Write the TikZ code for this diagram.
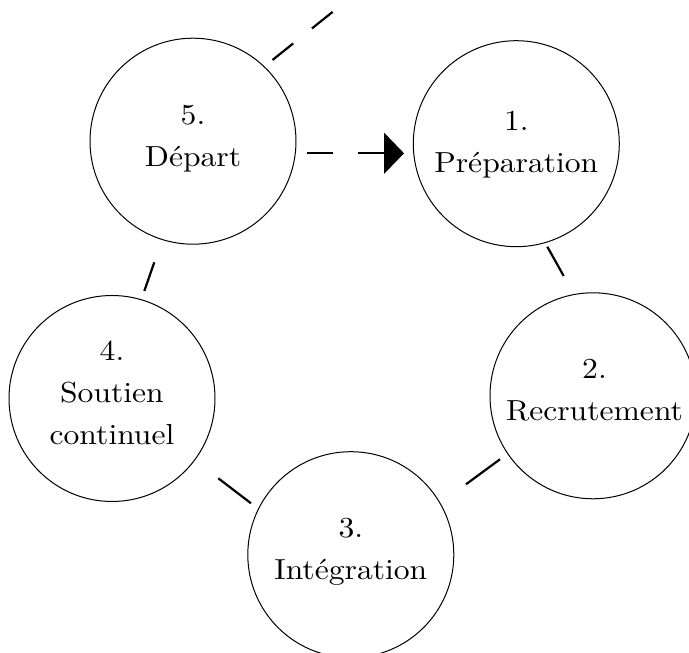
\documentclass[tikz,border=0pt]{standalone}
\usepackage{fontspec}
\setmainfont{lmroman10-regular.otf}[FakeStretch=1.09]
\usetikzlibrary{arrows.meta,calc}
\begin{document}
\begin{tikzpicture}[x=1pt,y=1pt,
  circ/.style={circle,draw,line width=1pt,minimum size=206pt,inner sep=0pt,outer sep=0pt},
  lbl/.style={align=center,font={\fontsize{29pt}{42pt}\selectfont},inner sep=0pt},
  conn/.style={line width=2.2pt}]
\useasboundingbox (0,0) rectangle (689,653);
% circles
\node[circ] (n5) at (193,511.8) {};
\node[circ] (n1) at (516.3,509.3) {};
\node[circ] (n2) at (593,257.2) {};
\node[circ] (n3) at (350.8,98.3) {};
\node[circ] (n4) at (112,254.5) {};
% labels
\node[lbl] (t5) at ([yshift=2.5pt]n5.center) {5.\\Départ};
\node[lbl] (t1) at ([yshift=-1pt]n1.center) {1.\\Préparation};
\node[lbl] (t2) at ([xshift=1.5pt,yshift=6pt]n2.center) {2.\\Recrutement};
\node[lbl] (t3) at ([yshift=2.7pt]n3.center) {3.\\Intégration};
\node[lbl] (t4) at ([yshift=6pt]n4.center) {4.\\Soutien\\continuel};
% connectors
\coordinate (a0) at ($(n5)+(113.7,-12.1)$);
\draw[conn,dash pattern=on 26.3pt off 24.7pt,shorten >=9.3pt,
  -{Triangle[length=20pt,width=41pt]}] (a0) -- (a0 -| n1.west);
\coordinate (b0) at ($(n5)+(79.5,81.2)$);
\coordinate (b1) at ($(n5)+(235.7,206.2)$);
\draw[conn,dash pattern=on 26.5pt off 24pt] (b0) -- (b1);
\draw[conn] ($(n5)+(-38.7,-121.1)$) -- ($(n4)+(32.3,107.5)$);
\draw[conn] ($(n4)+(106.3,-79.8)$) -- ($(n3)+(-99.8,51.4)$);
\draw[conn] ($(n3)+(115.2,70.4)$) -- ($(n2)+(-93,-63.5)$);
\draw[conn] ($(n1)+(31,-103)$) -- ($(n2)+(-29.3,119.8)$);
\end{tikzpicture}
\end{document}
